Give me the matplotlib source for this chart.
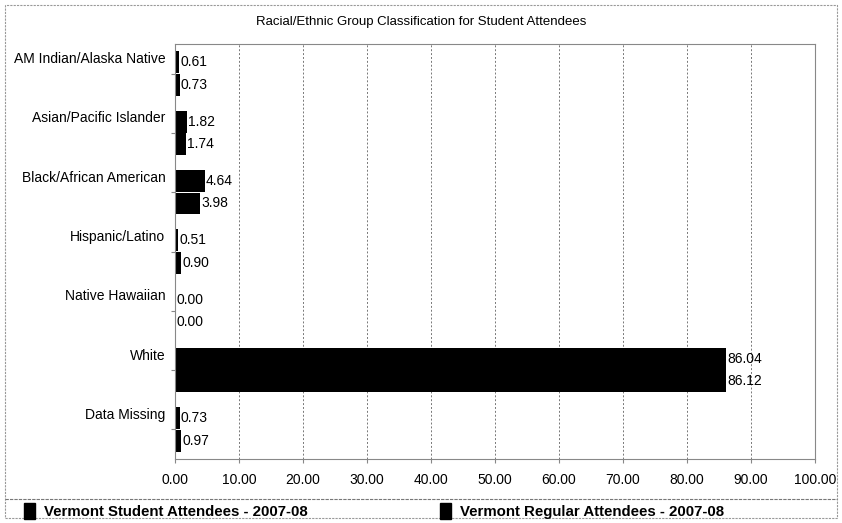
import numpy as np
import matplotlib
matplotlib.use("Agg")
import matplotlib.pyplot as plt
from matplotlib.patches import Patch, Rectangle
from matplotlib.lines import Line2D

plt.rcParams["font.family"] = ["Liberation Sans", "DejaVu Sans"]

categories = ["AM Indian/Alaska Native", "Asian/Pacific Islander", "Black/African American",
              "Hispanic/Latino", "Native Hawaiian", "White", "Data Missing"]
student = [0.61, 1.82, 4.64, 0.51, 0.00, 86.04, 0.73]
regular = [0.73, 1.74, 3.98, 0.90, 0.00, 86.12, 0.97]
series_names = ["Vermont Student Attendees - 2007-08", "Vermont Regular Attendees - 2007-08"]
x_ticks = np.arange(0, 101, 10)

fig = plt.figure(figsize=(8.42, 5.23), dpi=100)
ax = fig.add_axes([175 / 842, 64 / 523, 640 / 842, 415 / 523])

y = np.arange(len(categories))
h = 0.37
off = 0.19
ax.barh(y - off, student, height=h, color="black")
ax.barh(y + off, regular, height=h, color="black")

for yi, v in zip(y - off, student):
    ax.text(v + 0.2, yi, f"{v:.2f}", va="center", ha="left", fontsize=10)
for yi, v in zip(y + off, regular):
    ax.text(v + 0.2, yi, f"{v:.2f}", va="center", ha="left", fontsize=10)

ax.set_xlim(0, 100)
ax.set_ylim(len(categories) - 0.5, -0.5)
ax.set_xticks(x_ticks)
ax.set_xticklabels([f"{t:.2f}" for t in x_ticks], fontsize=10)
ax.tick_params(axis="x", length=3, color="#888888", pad=7)

ax.set_yticks(y)
ax.set_yticklabels([""] * len(y))
ax.tick_params(axis="y", which="major", length=3, color="#888888")
ax.set_yticks(y - 0.27, minor=True)
ax.set_yticklabels(categories, minor=True, fontsize=10)
ax.tick_params(axis="y", which="minor", length=0, pad=7)

ax.grid(axis="x", color="#777777", linestyle=(0, (2, 2)), linewidth=0.7)
ax.set_axisbelow(True)
for s in ax.spines.values():
    s.set_color("#888888")
    s.set_linestyle((0, (2, 1)))
    s.set_linewidth(0.8)

fig.suptitle("Racial/Ethnic Group Classification for Student Attendees", x=0.5, y=1 - 22 / 523,
             va="center", fontsize=9.5)

# outer frame and legend separator
fig.add_artist(Rectangle((5 / 842, 5 / 523), 832 / 842, 513 / 523, transform=fig.transFigure,
                         fill=False, edgecolor="#999999", linestyle=(0, (2, 1)), linewidth=0.8))
fig.add_artist(Line2D([5 / 842, 837 / 842], [1 - 499 / 523, 1 - 499 / 523], transform=fig.transFigure,
                      color="#777777", linewidth=0.8, linestyle=(0, (3, 1))))

handles = [Patch(color="black", label=series_names[0]), Patch(color="black", label=series_names[1])]
fig.legend(handles=handles, loc="center left", bbox_to_anchor=(10 / 842, 1 - 511 / 523), ncol=2,
           frameon=False, handlelength=0.75, handleheight=1.2, handletextpad=0.6, columnspacing=8.8,
           prop={"weight": "bold", "size": 10.8})

fig.savefig("out.png", dpi=100)
